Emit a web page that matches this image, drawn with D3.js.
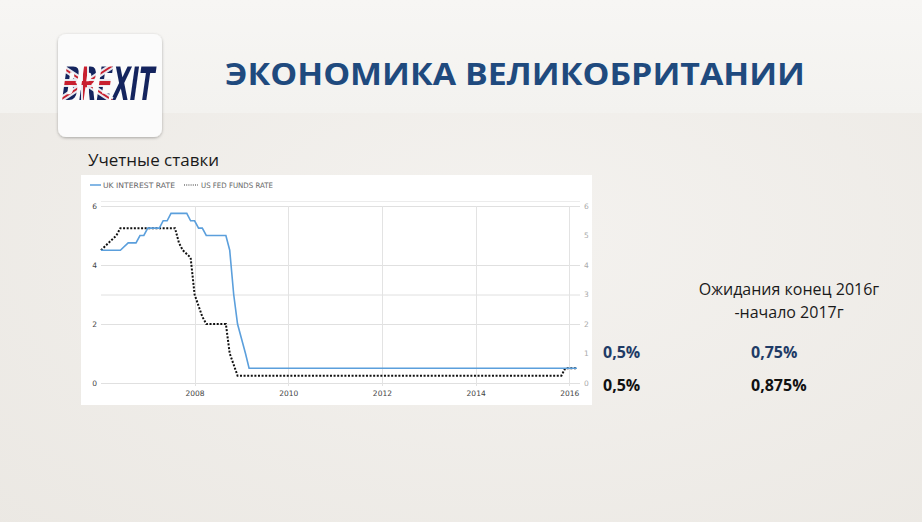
<!DOCTYPE html>
<html><head><meta charset="utf-8">
<script src="https://cdn.jsdelivr.net/npm/d3@7"></script>
<style>
html,body{margin:0;padding:0;overflow:hidden;}
svg{display:block;}
</style></head>
<body>
<script>
// ---- data ----
const ukDates = ["2006-01","2006-06","2006-08","2006-10","2006-11","2006-12","2007-01","2007-04","2007-05","2007-06","2007-07","2007-11","2007-12","2008-01","2008-02","2008-03","2008-04","2008-09","2008-10","2008-11","2008-12","2009-01","2009-02","2009-03","2016-03"];
const ukValues = [4.5,4.5,4.75,4.75,5.0,5.0,5.25,5.25,5.5,5.5,5.75,5.75,5.5,5.5,5.25,5.25,5.0,5.0,4.5,3.0,2.0,1.5,1.0,0.5,0.5];
const usDates = ["2006-01","2006-03","2006-05","2006-06","2007-08","2007-09","2007-10","2007-12","2008-01","2008-03","2008-04","2008-09","2008-10","2008-12","2015-11","2015-12","2016-03"];
const usValues = [4.5,4.75,5.0,5.25,5.25,4.75,4.5,4.25,3.0,2.25,2.0,2.0,1.0,0.25,0.25,0.5,0.5];
const seriesNames = ["UK INTEREST RATE","US FED FUNDS RATE"];
const xTickYears = [2008,2010,2012,2014,2016];
const yTicksLeft = [0,2,4,6];
const yTicksRight = [0,1,2,3,4,5,6];
const gridValues = [0,2,3,4,6];
const title = "ЭКОНОМИКА ВЕЛИКОБРИТАНИИ";
const subtitle = "Учетные ставки";
const expectHeader = ["Ожидания конец 2016г","-начало 2017г"];
const currentRates = ["0,5%","0,5%"];
const expectedRates = ["0,75%","0,875%"];

const W=922,H=522;
const svg=d3.select("body").append("svg").attr("width",W).attr("height",H);
const defs=svg.append("defs");

// background
const bg=defs.append("linearGradient").attr("id","bgTop").attr("x1",0).attr("x2",0).attr("y1",0).attr("y2",1);
bg.append("stop").attr("offset","0").attr("stop-color","#f7f6f4");
bg.append("stop").attr("offset","1").attr("stop-color","#f3f2ef");
const bg2=defs.append("radialGradient").attr("id","bgBot").attr("cx","0.55").attr("cy","0.45").attr("r","0.8");
bg2.append("stop").attr("offset","0").attr("stop-color","#f4f2ef");
bg2.append("stop").attr("offset","1").attr("stop-color","#ebe8e3");
svg.append("rect").attr("width",W).attr("height",H).attr("fill","url(#bgBot)");
svg.append("rect").attr("width",W).attr("height",113).attr("fill","url(#bgTop)");

// logo box
const sh=defs.append("filter").attr("id","sh").attr("x","-20%").attr("y","-20%").attr("width","140%").attr("height","140%");
sh.append("feDropShadow").attr("dx",0).attr("dy",1).attr("stdDeviation",1.6).attr("flood-color","#000").attr("flood-opacity",0.3);
svg.append("rect").attr("x",58).attr("y",34).attr("width",104).attr("height",103).attr("rx",8)
  .attr("fill","#fbfbfb").attr("filter","url(#sh)");
const cp=defs.append("clipPath").attr("id","brexitClip");
cp.append("text").attr("x",60).attr("y",100).attr("font-family","DejaVu Sans").attr("font-weight","bold")
  .attr("font-size",46).attr("textLength",92).attr("lengthAdjust","spacingAndGlyphs")
  .attr("transform","skewX(-8) translate(14,0)").text("BREXIT");
const lg=svg.append("g").attr("clip-path","url(#brexitClip)");
lg.append("rect").attr("x",55).attr("y",60).attr("width",110).attr("height",45).attr("fill","#14245e");
lg.append("path").attr("d","M60,66 L112,100 M60,100 L112,66").attr("stroke","#e8e8ee").attr("stroke-width",6);
lg.append("path").attr("d","M60,66 L112,100 M60,100 L112,66").attr("stroke","#c8202f").attr("stroke-width",2);
lg.append("rect").attr("x",60).attr("y",79).attr("width",52).attr("height",8).attr("fill","#e8e8ee");
lg.append("rect").attr("x",81).attr("y",60).attr("width",8).attr("height",45).attr("fill","#e8e8ee");
lg.append("rect").attr("x",60).attr("y",81).attr("width",52).attr("height",4).attr("fill","#c8202f");
lg.append("rect").attr("x",83).attr("y",60).attr("width",4).attr("height",45).attr("fill","#c8202f");

// title
svg.append("text").attr("x",225).attr("y",85).attr("font-family","Open Sans").attr("font-weight","bold")
  .attr("font-size",30).attr("fill","#1f4a7e").attr("textLength",580).attr("lengthAdjust","spacingAndGlyphs").text(title);

svg.append("text").attr("x",88).attr("y",166).attr("font-family","Open Sans").attr("font-size",16)
  .attr("fill","#1a1a1a").attr("textLength",131).attr("lengthAdjust","spacingAndGlyphs").text(subtitle);

// chart panel
svg.append("rect").attr("x",81).attr("y",175).attr("width",511).attr("height",230).attr("fill","#ffffff");

const parse=d3.timeParse("%Y-%m");
const uk=ukDates.map((d,i)=>({date:parse(d),value:ukValues[i]}));
const us=usDates.map((d,i)=>({date:parse(d),value:usValues[i]}));

const x=d3.scaleTime().domain([new Date(2006,0,1),new Date(2016,2,25)]).range([101,580]);
const y=d3.scaleLinear().domain([0,6]).range([383,206]);

const g=svg.append("g");
// horizontal grid
g.selectAll("line.hg").data(gridValues).join("line").attr("class","hg")
  .attr("x1",101).attr("x2",580).attr("y1",d=>y(d)+0.5).attr("y2",d=>y(d)+0.5)
  .attr("stroke","#e0e0e0").attr("stroke-width",1);
g.append("line").attr("x1",101).attr("x2",580).attr("y1",201.5).attr("y2",201.5).attr("stroke","#ececec");
// vertical grid
g.selectAll("line.vg").data(xTickYears).join("line").attr("class","vg")
  .attr("x1",d=>Math.round(x(new Date(d,0,1)))+0.5).attr("x2",d=>Math.round(x(new Date(d,0,1)))+0.5)
  .attr("y1",206).attr("y2",386).attr("stroke","#e3e3e3");

// axes
const xAxis=d3.axisBottom(x).tickValues(xTickYears.map(v=>new Date(v,0,1))).tickFormat(d3.timeFormat("%Y")).tickSize(0).tickPadding(5);
const ax=svg.append("g").attr("transform","translate(0,386)").call(xAxis);
ax.select(".domain").remove();
ax.selectAll("text").attr("font-family","DejaVu Sans").attr("font-size",7.5).attr("fill","#444");

const yl=svg.append("g").attr("transform","translate(99,0)").call(d3.axisLeft(y).tickValues(yTicksLeft).tickFormat(d3.format("d")).tickSize(0).tickPadding(2));
yl.select(".domain").remove();
yl.selectAll("text").attr("font-family","DejaVu Sans").attr("font-size",7.5).attr("fill","#444");
const yr=svg.append("g").attr("transform","translate(582,0)").call(d3.axisRight(y).tickValues(yTicksRight).tickFormat(d3.format("d")).tickSize(0).tickPadding(2));
yr.select(".domain").remove();
yr.selectAll("text").attr("font-family","DejaVu Sans").attr("font-size",7.5).attr("fill","#aaa");

// lines
const line=d3.line().x(d=>x(d.date)).y(d=>y(d.value));
svg.append("path").datum(us).attr("d",line).attr("fill","none").attr("stroke","#111")
  .attr("stroke-width",2).attr("stroke-dasharray","2,1.6");
svg.append("path").datum(uk).attr("d",line).attr("fill","none").attr("stroke","#5b9fdc")
  .attr("stroke-width",1.6);

// legend
const leg=svg.append("g");
leg.append("line").attr("x1",90).attr("x2",101).attr("y1",185).attr("y2",185).attr("stroke","#5b9fdc").attr("stroke-width",1.5);
leg.append("text").attr("x",103).attr("y",187.8).attr("font-family","DejaVu Sans").attr("font-size",7.5).attr("fill","#666")
  .attr("textLength",72).attr("lengthAdjust","spacingAndGlyphs").text(seriesNames[0]);
leg.append("line").attr("x1",184).attr("x2",198).attr("y1",185).attr("y2",185).attr("stroke","#333").attr("stroke-width",1.2).attr("stroke-dasharray","1,1.2");
leg.append("text").attr("x",201).attr("y",187.8).attr("font-family","DejaVu Sans").attr("font-size",7.5).attr("fill","#666")
  .attr("textLength",72).attr("lengthAdjust","spacingAndGlyphs").text(seriesNames[1]);

// right texts
svg.selectAll("text.hdr").data(expectHeader).join("text").attr("class","hdr")
  .attr("x",789).attr("y",(d,i)=>295+i*23).attr("text-anchor","middle")
  .attr("font-family","Open Sans").attr("font-size",16).attr("fill","#1a1a1a").text(d=>d);
const rateColors=["#1f3b66","#111111"];
svg.selectAll("text.cur").data(currentRates).join("text").attr("class","cur")
  .attr("x",603).attr("y",(d,i)=>358+i*33).attr("font-family","Open Sans").attr("font-weight","bold")
  .attr("font-size",16).attr("fill",(d,i)=>rateColors[i]).text(d=>d);
svg.selectAll("text.exp").data(expectedRates).join("text").attr("class","exp")
  .attr("x",751).attr("y",(d,i)=>358+i*33).attr("font-family","Open Sans").attr("font-weight","bold")
  .attr("font-size",16).attr("fill",(d,i)=>rateColors[i]).text(d=>d);
</script>
</body></html>
